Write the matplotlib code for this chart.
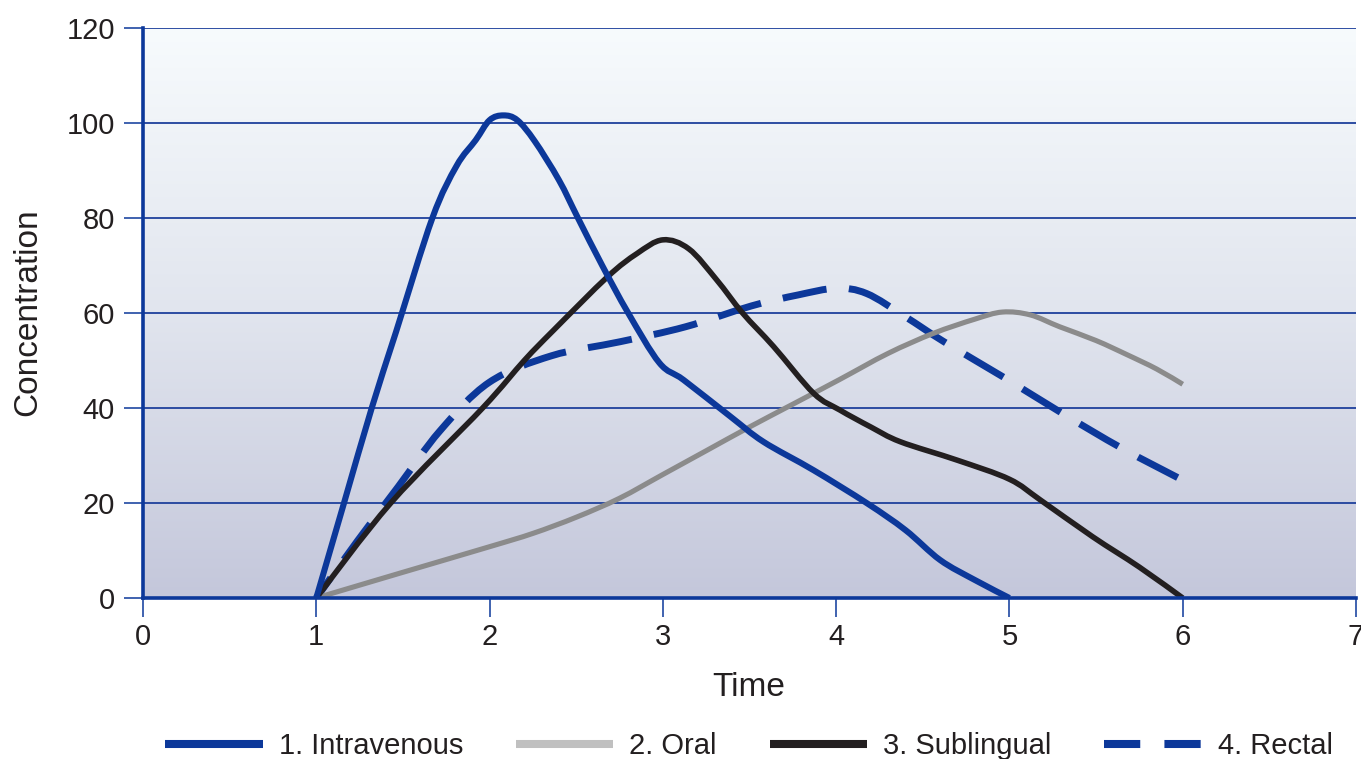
import numpy as np
import matplotlib
matplotlib.use("Agg")
import matplotlib.pyplot as plt
from matplotlib.colors import LinearSegmentedColormap
from matplotlib.lines import Line2D
from matplotlib.path import Path
from matplotlib.patches import PathPatch

plt.rcParams['font.family'] = ['Liberation Sans', 'DejaVu Sans']

# Concentration-time profiles by route of administration
iv_t = [1.0, 1.16, 1.32, 1.46, 1.67, 1.81, 1.92, 2.0, 2.08, 2.16, 2.26, 2.40, 2.51,
        2.65, 2.80, 2.98, 3.12, 3.39, 3.58, 3.87, 4.18, 4.40, 4.60, 4.80, 5.0]
iv_c = [0, 20, 40, 56, 80, 91, 96.4, 100.6, 101.6, 100.6, 96.2, 88, 80,
        70, 60, 49.5, 45.9, 38.2, 32.9, 26.9, 19.9, 14.3, 8, 3.8, 0]

oral_t = [1.0, 1.48, 2.0, 2.25, 2.50, 2.75, 3.0, 3.25, 3.5, 3.75, 4.02, 4.30, 4.56,
          4.80, 4.96, 5.12, 5.29, 5.50, 5.68, 5.85, 6.0]
oral_c = [0, 5.2, 10.8, 13.6, 17, 21, 26, 31, 36, 40.8, 46, 51.5, 55.7,
          58.7, 60.2, 59.6, 57.1, 54.2, 51.2, 48.2, 45]

sub_t = [1.0, 1.43, 1.96, 2.20, 2.37, 2.68, 2.85, 3.0, 3.15, 3.31, 3.46, 3.64, 3.87,
         4.02, 4.20, 4.37, 4.70, 5.0, 5.18, 5.48, 5.75, 6.0]
sub_c = [0, 20, 40, 50, 56.4, 67.6, 72.5, 75.4, 73.5, 67, 60, 52.9, 43.1,
         39.6, 36, 32.9, 29, 25, 20.6, 12.9, 6.5, 0]

rect_t = [1.0, 1.238, 1.473, 1.714, 1.998, 2.358, 2.753, 3.131, 3.512, 3.78, 4.0,
          4.176, 4.40, 4.62, 4.97, 5.306, 5.65, 6.0]
rect_c = [0, 12.05, 23.45, 35.2, 45.4, 51.0, 53.95, 57.1, 61.5, 63.8, 65.2,
          64.1, 59.2, 54.0, 46.4, 38.85, 31.5, 24.8]

labels = ["1. Intravenous", "2. Oral", "3. Sublingual", "4. Rectal"]
x_ticks = [0, 1, 2, 3, 4, 5, 6, 7]
y_ticks = [0, 20, 40, 60, 80, 100, 120]

BLUE = "#0c389a"
GRID = "#1e409c"
BLACK = "#231f20"
GRAY = "#8b8b8b"
GRAY_KEY = "#c0c0c0"
TEXT = "#231f20"


def smooth_path(xs, ys):
    """Catmull-Rom curve through the points, as cubic Bezier segments."""
    p = np.column_stack([xs, ys]).astype(float)
    ext = np.vstack([p[0], p, p[-1]])
    verts = [p[0]]
    codes = [Path.MOVETO]
    for i in range(1, len(ext) - 2):
        p0, p1, p2, p3 = ext[i - 1], ext[i], ext[i + 1], ext[i + 2]
        c1 = p1 + (p2 - p0) / 6.0
        c2 = p2 - (p3 - p1) / 6.0
        verts += [c1, c2, p2]
        codes += [Path.CURVE4] * 3
    return Path(np.array(verts), codes)


def draw_curve(ax, xs, ys, **kw):
    patch = PathPatch(smooth_path(xs, ys), facecolor="none",
                      capstyle="butt", joinstyle="round", **kw)
    ax.add_patch(patch)
    return patch


W, H = 1361, 759
fig = plt.figure(figsize=(W / 100, H / 100), dpi=100)
ax = fig.add_axes([143 / W, 1 - 598 / H, (1356 - 143) / W, (598 - 28) / H])

# vertical background gradient
cmap = LinearSegmentedColormap.from_list(
    "bg", ["#c4c7db", "#e1e5ee", "#f7fbfd"])
grad = np.linspace(0, 1, 256).reshape(-1, 1)
ax.imshow(grad, extent=[0, 7, 0, 120], origin="lower", cmap=cmap,
          aspect="auto", zorder=0, interpolation="bicubic")

ax.set_xlim(0, 7)
ax.set_ylim(0, 120)
ax.set_xticks(x_ticks)
ax.set_yticks(y_ticks)
ax.yaxis.grid(True, color=GRID, lw=1.3)
ax.xaxis.grid(False)
ax.set_axisbelow(True)

for s in ("top", "right"):
    ax.spines[s].set_visible(False)
for s in ("left", "bottom"):
    ax.spines[s].set_color(BLUE)
    ax.spines[s].set_linewidth(2.6)
    ax.spines[s].set_zorder(5)

ax.tick_params(axis="both", direction="out", length=13.7, width=1.1,
               color=BLUE, labelsize=21, labelcolor=TEXT)
ax.tick_params(axis="x", pad=4)
ax.tick_params(axis="y", pad=6.5)

draw_curve(ax, rect_t, rect_c, edgecolor=BLUE, lw=5.0,
           linestyle=(2.86, (6.43, 3.23)), zorder=3)
draw_curve(ax, oral_t, oral_c, edgecolor=GRAY, lw=3.7, zorder=3.5)
draw_curve(ax, sub_t, sub_c, edgecolor=BLACK, lw=4.0, zorder=4)
draw_curve(ax, iv_t, iv_c, edgecolor=BLUE, lw=4.4, zorder=4.5)

fig.text(749 / W, 1 - 687 / H, "Time", fontsize=24, color=TEXT,
         ha="center", va="center")
fig.text(28 / W, 1 - 312 / H, "Concentration", fontsize=24, color=TEXT,
         ha="center", va="center", rotation=90)

handles = [
    Line2D([], [], color=BLUE, lw=5.8, solid_capstyle="butt"),
    Line2D([], [], color=GRAY_KEY, lw=5.8, solid_capstyle="butt"),
    Line2D([], [], color=BLACK, lw=5.8, solid_capstyle="butt"),
    Line2D([], [], color=BLUE, lw=5.8, linestyle=(0, (4.5, 3))),
]
leg = fig.legend(handles, labels, loc="center",
                 bbox_to_anchor=(749 / W, 1 - 746 / H), ncol=4, frameon=False,
                 fontsize=21, handlelength=3.33, handletextpad=0.55,
                 columnspacing=1.82, borderpad=0, borderaxespad=0)
for t in leg.get_texts():
    t.set_color(TEXT)

fig.savefig("out.png", dpi=100)
